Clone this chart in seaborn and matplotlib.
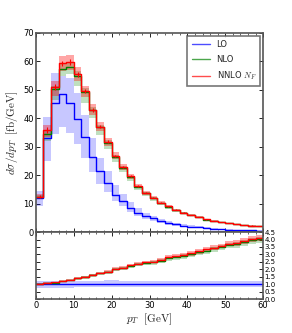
import numpy as np
import matplotlib
matplotlib.use("Agg")
import matplotlib.pyplot as plt
import seaborn as sns

# bin edges in pT [GeV], 2 GeV bins
edges = np.arange(0, 62, 2)

# LO
lo = [12.0, 33.0, 45.3, 48.5, 45.5, 39.8, 33.3, 26.5, 21.4, 17.2, 13.2, 10.9, 8.6, 6.8, 5.6,
      4.8, 3.9, 3.2, 2.7, 2.3, 1.95, 1.65, 1.35, 1.13, 0.98, 0.86, 0.74, 0.64, 0.57, 0.51]
lo_dn = [9.0, 25.0, 34.5, 37.0, 35.0, 31.0, 26.0, 21.0, 17.0, 14.0, 11.0, 9.0, 7.0, 5.6, 4.6,
         3.9, 3.1, 2.6, 2.2, 1.85, 1.55, 1.32, 1.08, 0.9, 0.78, 0.68, 0.59, 0.51, 0.45, 0.4]
lo_up = [14.5, 40.5, 56.0, 55.0, 54.0, 49.0, 41.0, 33.0, 26.0, 21.5, 16.5, 13.5, 10.5, 8.3, 6.8,
         5.8, 4.7, 3.85, 3.2, 2.75, 2.33, 1.98, 1.62, 1.36, 1.18, 1.03, 0.89, 0.77, 0.68, 0.61]

# NLO
nlo = [12.3, 34.5, 50.3, 57.5, 58.1, 55.0, 49.2, 42.8, 36.8, 31.4, 26.5, 22.6, 19.3, 15.9, 13.6,
       11.9, 10.1, 8.8, 7.6, 6.7, 5.9, 5.2, 4.4, 3.85, 3.45, 3.15, 2.75, 2.45, 2.25, 2.05]
nlo_dn = [11.6, 32.0, 46.5, 55.0, 55.5, 51.5, 45.5, 40.0, 34.3, 29.3, 24.8, 21.2, 18.0, 14.9, 12.7,
          11.1, 9.5, 8.2, 7.1, 6.25, 5.5, 4.85, 4.1, 3.6, 3.22, 2.94, 2.56, 2.28, 2.1, 1.91]
nlo_up = [12.9, 35.5, 51.5, 59.0, 59.5, 56.5, 50.5, 44.0, 37.8, 32.2, 27.2, 23.2, 19.8, 16.3, 14.0,
          12.2, 10.4, 9.0, 7.8, 6.9, 6.05, 5.35, 4.55, 3.95, 3.55, 3.24, 2.83, 2.52, 2.32, 2.11]

# NNLO N_F
nnlo = [12.5, 36.0, 50.9, 59.3, 59.7, 55.5, 49.6, 43.0, 37.1, 31.8, 26.8, 22.9, 19.6, 16.1, 13.8,
        12.1, 10.3, 9.0, 7.8, 6.8, 6.0, 5.3, 4.5, 3.9, 3.5, 3.2, 2.8, 2.5, 2.3, 2.1]
nnlo_dn = [11.8, 33.5, 48.0, 56.5, 57.0, 53.0, 47.5, 41.0, 35.5, 30.3, 25.6, 21.9, 18.7, 15.4, 13.2,
           11.6, 9.8, 8.6, 7.4, 6.5, 5.7, 5.05, 4.3, 3.7, 3.35, 3.05, 2.65, 2.38, 2.18, 1.98]
nnlo_up = [13.3, 37.5, 53.0, 62.0, 62.3, 58.0, 51.5, 45.0, 38.8, 33.2, 28.0, 23.9, 20.5, 16.8, 14.4,
           12.6, 10.8, 9.4, 8.2, 7.1, 6.3, 5.55, 4.7, 4.1, 3.65, 3.35, 2.95, 2.62, 2.42, 2.2]
nnlo_err = [0.5, 1.0, 1.0, 1.0, 1.0, 0.9, 0.8, 0.7, 0.6, 0.5, 0.4, 0.4, 0.3, 0.3, 0.2,
            0.2, 0.2, 0.15, 0.15, 0.1, 0.1, 0.1, 0.1, 0.1, 0.1, 0.1, 0.1, 0.1, 0.1, 0.1]

sns.set_style("ticks")
plt.rcParams['font.family'] = ['DejaVu Sans']
plt.rcParams['mathtext.fontset'] = 'cm'

BLUE = "#0000ff"
GREEN = "#008000"
RED = "#ff0000"
SPINE = "#555555"


def ext(v):
    v = np.asarray(v, dtype=float)
    return np.append(v, v[-1])


fig = plt.figure(figsize=(2.92, 3.33), dpi=100)
ax = fig.add_axes([0.123, 0.303, 0.778, 0.598])
axr = fig.add_axes([0.123, 0.102, 0.778, 0.201], sharex=ax)

# main panel
ax.fill_between(edges, ext(lo_dn), ext(lo_up), step="post", color=BLUE, alpha=0.22, lw=0)
ax.fill_between(edges, ext(nlo_dn), ext(nlo_up), step="post", color=GREEN, alpha=0.25, lw=0)
ax.fill_between(edges, ext(nnlo_dn), ext(nnlo_up), step="post", color=RED, alpha=0.35, lw=0)
sns.lineplot(x=edges, y=ext(lo), drawstyle="steps-post", color=BLUE, lw=1.0, ax=ax, label="LO")
sns.lineplot(x=edges, y=ext(nlo), drawstyle="steps-post", color=GREEN, lw=1.0, ax=ax, label="NLO")
sns.lineplot(x=edges, y=ext(nnlo), drawstyle="steps-post", color=RED, lw=1.0, ax=ax, label=r"NNLO $N_F$")
centers = edges[:-1] + 1
ax.errorbar(centers, nnlo, yerr=nnlo_err, fmt="none", ecolor=RED, elinewidth=0.8)
ax.plot(centers, nnlo, ls="none", marker="_", ms=3, color=RED, mew=0.8)

ax.set_xlim(0, 60)
ax.set_ylim(0, 70)
ax.set_yticks(np.arange(0, 71, 10))
ax.set_ylabel(r"$d\sigma/dp_T\ \ [\mathrm{fb/GeV}]$", fontsize=8, labelpad=2)
ax.set_xlabel("")
leg = ax.legend(loc="upper right", fontsize=6, frameon=True, fancybox=False,
                handlelength=2.2, borderpad=0.5, labelspacing=0.7, borderaxespad=0.35)
leg.get_frame().set_edgecolor(SPINE)
leg.get_frame().set_linewidth(1.2)
for h in leg.get_lines():
    h.set_alpha(0.7)
plt.setp(ax.get_xticklabels(), visible=False)

# ratio panel (relative to LO)
lo_a = np.asarray(lo)
axr.fill_between(edges, ext(np.asarray(lo_dn) / lo_a), ext(np.asarray(lo_up) / lo_a), step="post",
                 color=BLUE, alpha=0.22, lw=0)
axr.fill_between(edges, ext(np.asarray(nlo_dn) / lo_a), ext(np.asarray(nlo_up) / lo_a), step="post",
                 color=GREEN, alpha=0.25, lw=0)
axr.fill_between(edges, ext(np.asarray(nnlo_dn) / lo_a), ext(np.asarray(nnlo_up) / lo_a), step="post",
                 color=RED, alpha=0.35, lw=0)
sns.lineplot(x=edges, y=ext(lo_a / lo_a), drawstyle="steps-post", color=BLUE, lw=1.0, ax=axr)
sns.lineplot(x=edges, y=ext(np.asarray(nlo) / lo_a), drawstyle="steps-post", color=GREEN, lw=1.0, ax=axr)
sns.lineplot(x=edges, y=ext(np.asarray(nnlo) / lo_a), drawstyle="steps-post", color=RED, lw=1.0, ax=axr)
axr.set_ylim(0, 4.5)
axr.set_yticks(np.arange(0, 4.51, 0.5))
axr.set_xticks(np.arange(0, 61, 10))
axr.yaxis.tick_right()
axr.set_xlabel(r"$p_T\ \ [\mathrm{GeV}]$", fontsize=8, labelpad=1)
axr.set_ylabel("")

for a in (ax, axr):
    a.xaxis.set_minor_locator(matplotlib.ticker.MultipleLocator(2))
    a.tick_params(direction="in", labelsize=6, length=3, width=0.6, colors="black",
                  top=True, bottom=True, left=True, right=True, pad=1.5)
    a.tick_params(which="minor", direction="in", length=1.5, width=0.5,
                  top=True, bottom=True)
    for s in a.spines.values():
        s.set_color(SPINE)
        s.set_linewidth(1.2)
        s.set_visible(True)
axr.tick_params(axis="y", labelleft=False, labelright=True, left=True, right=True,
                pad=1, labelsize=5)
ax.tick_params(axis="y", labelright=False)

fig.savefig("out.png", dpi=100)
